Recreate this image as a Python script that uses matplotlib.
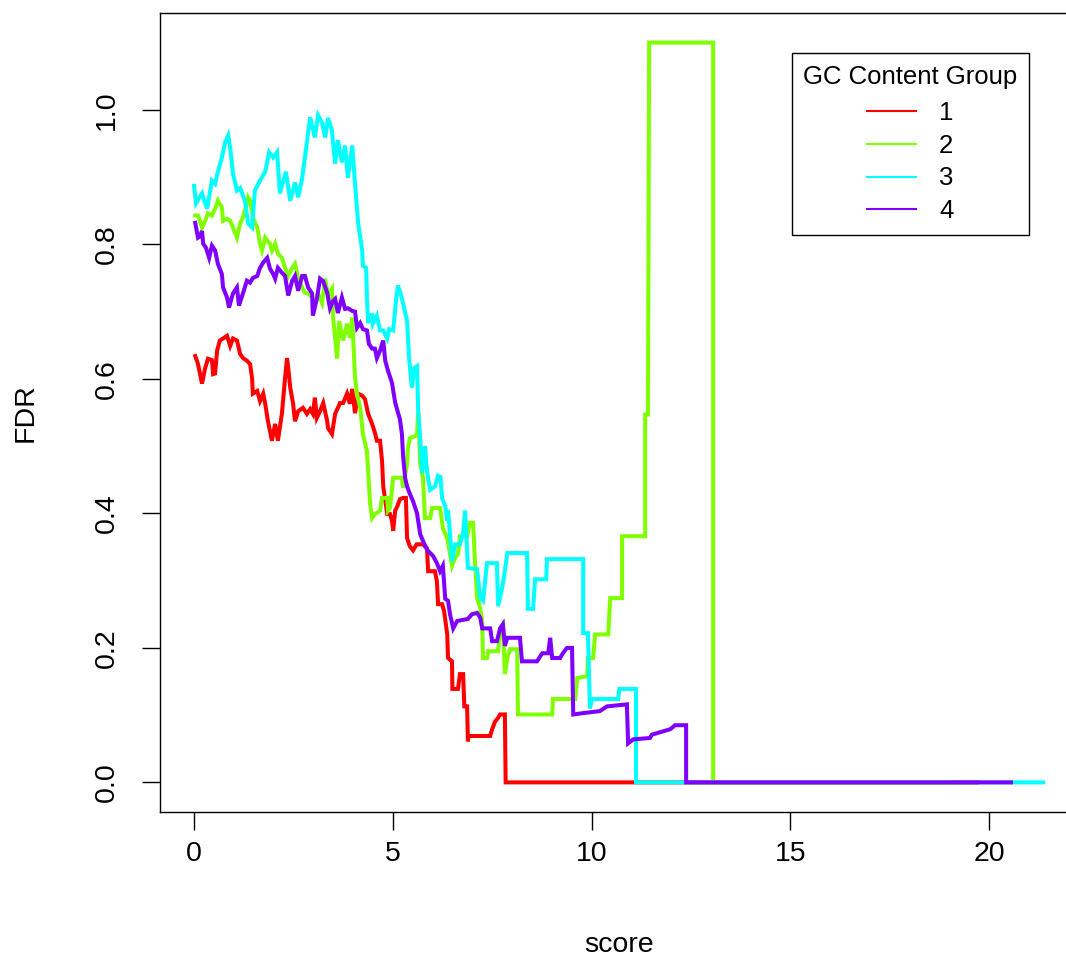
import matplotlib
matplotlib.use("Agg")
import matplotlib.pyplot as plt
from matplotlib.lines import Line2D

plt.rcParams['font.family'] = ['Liberation Sans', 'DejaVu Sans']

# FDR vs score for each GC content group
red_x = [0.03, 0.10, 0.20, 0.28, 0.35, 0.45, 0.48, 0.53, 0.58, 0.65, 0.73, 0.83, 0.91, 0.98, 1.08,
         1.16, 1.23, 1.33, 1.41, 1.46, 1.48, 1.59, 1.66, 1.74, 1.79, 1.86, 1.96, 2.04, 2.11, 2.21,
         2.29, 2.34, 2.37, 2.42, 2.49, 2.54, 2.62, 2.74, 2.84, 2.92, 2.99, 3.04, 3.09, 3.17, 3.25,
         3.35, 3.37, 3.47, 3.55, 3.62, 3.67, 3.75, 3.85, 3.92, 3.98, 4.05, 4.13, 4.23, 4.30, 4.38,
         4.42, 4.48, 4.55, 4.60, 4.68, 4.73, 4.76, 4.86, 4.93, 4.98, 5.01, 5.06, 5.11, 5.18, 5.26,
         5.33, 5.36, 5.43, 5.51, 5.60, 5.76, 5.86, 5.89, 6.06, 6.11, 6.14, 6.24, 6.29, 6.37, 6.39,
         6.45, 6.49, 6.50, 6.64, 6.69, 6.77, 6.80, 6.87, 6.89, 6.90, 7.45, 7.50, 7.57, 7.65, 7.70,
         7.82, 7.84, 19.7]
red_y = [0.634, 0.622, 0.593, 0.616, 0.630, 0.628, 0.607, 0.608, 0.642, 0.657, 0.660, 0.664, 0.649,
         0.660, 0.657, 0.637, 0.631, 0.627, 0.622, 0.601, 0.578, 0.582, 0.567, 0.578, 0.563, 0.537,
         0.508, 0.533, 0.508, 0.548, 0.601, 0.631, 0.616, 0.587, 0.564, 0.537, 0.552, 0.557, 0.548,
         0.555, 0.548, 0.572, 0.542, 0.552, 0.564, 0.537, 0.527, 0.518, 0.548, 0.557, 0.564, 0.564,
         0.578, 0.563, 0.585, 0.549, 0.578, 0.575, 0.570, 0.548, 0.542, 0.533, 0.520, 0.508, 0.508,
         0.478, 0.440, 0.399, 0.399, 0.389, 0.374, 0.404, 0.410, 0.421, 0.423, 0.423, 0.363, 0.351,
         0.345, 0.354, 0.354, 0.348, 0.314, 0.314, 0.299, 0.265, 0.265, 0.255, 0.220, 0.185, 0.182,
         0.180, 0.139, 0.139, 0.161, 0.161, 0.113, 0.113, 0.061, 0.069, 0.069, 0.079, 0.090, 0.096,
         0.101, 0.101, 0.0, 0.0]

green_x = [0.03, 0.10, 0.20, 0.28, 0.35, 0.45, 0.53, 0.60, 0.70, 0.73, 0.83, 0.91, 0.98, 1.08, 1.16,
           1.23, 1.33, 1.36, 1.41, 1.48, 1.59, 1.66, 1.71, 1.79, 1.84, 1.91, 1.96, 2.04, 2.11, 2.21,
           2.29, 2.37, 2.47, 2.54, 2.62, 2.72, 2.79, 2.87, 2.97, 3.04, 3.12, 3.22, 3.30, 3.37, 3.47,
           3.50, 3.60, 3.65, 3.75, 3.85, 3.92, 3.98, 4.05, 4.10, 4.18, 4.25, 4.35, 4.43, 4.48, 4.55,
           4.68, 4.73, 4.86, 4.88, 4.93, 5.01, 5.23, 5.26, 5.36, 5.38, 5.43, 5.61, 5.64, 5.69, 5.76,
           5.81, 5.94, 5.99, 6.19, 6.26, 6.37, 6.44, 6.49, 6.57, 6.64, 6.69, 6.87, 6.94, 7.02, 7.07,
           7.12, 7.20, 7.25, 7.27, 7.37, 7.40, 7.65, 7.70, 7.77, 7.82, 7.88, 7.95, 8.13, 8.15, 9.01,
           9.03, 9.59, 9.64, 9.89, 9.91, 10.04, 10.09, 10.42, 10.47, 10.77, 10.77, 11.35, 11.35,
           11.42, 11.45, 13.06, 13.06, 19.0]
green_y = [0.843, 0.843, 0.825, 0.835, 0.846, 0.843, 0.853, 0.865, 0.855, 0.835, 0.838, 0.835, 0.825,
           0.810, 0.831, 0.840, 0.861, 0.870, 0.865, 0.840, 0.825, 0.801, 0.791, 0.810, 0.806, 0.801,
           0.791, 0.801, 0.786, 0.780, 0.765, 0.753, 0.765, 0.771, 0.749, 0.736, 0.728, 0.727, 0.721,
           0.716, 0.727, 0.713, 0.749, 0.724, 0.734, 0.691, 0.630, 0.686, 0.657, 0.682, 0.661, 0.691,
           0.602, 0.578, 0.557, 0.518, 0.493, 0.414, 0.393, 0.399, 0.404, 0.423, 0.423, 0.404, 0.408,
           0.453, 0.453, 0.438, 0.474, 0.497, 0.512, 0.516, 0.550, 0.474, 0.453, 0.393, 0.393, 0.408,
           0.408, 0.378, 0.363, 0.340, 0.322, 0.334, 0.340, 0.366, 0.366, 0.386, 0.386, 0.325, 0.274,
           0.259, 0.240, 0.185, 0.185, 0.195, 0.195, 0.229, 0.235, 0.161, 0.185, 0.198, 0.198, 0.101,
           0.101, 0.124, 0.124, 0.155, 0.158, 0.185, 0.185, 0.220, 0.220, 0.274, 0.274, 0.366, 0.366,
           0.547, 0.547, 1.10, 1.10, 0.0, 0.0]

cyan_x = [0.00, 0.05, 0.20, 0.33, 0.45, 0.53, 0.60, 0.70, 0.78, 0.86, 0.91, 0.98, 1.08, 1.16, 1.28,
          1.36, 1.46, 1.53, 1.66, 1.79, 1.89, 1.99, 2.09, 2.16, 2.31, 2.42, 2.54, 2.62, 2.72, 2.82,
          2.92, 3.04, 3.12, 3.22, 3.30, 3.37, 3.47, 3.55, 3.62, 3.72, 3.80, 3.87, 3.98, 4.05, 4.13,
          4.23, 4.25, 4.33, 4.35, 4.38, 4.48, 4.50, 4.60, 4.68, 4.76, 4.86, 4.91, 5.01, 5.08, 5.13,
          5.21, 5.26, 5.36, 5.41, 5.48, 5.54, 5.61, 5.64, 5.69, 5.74, 5.81, 5.86, 5.94, 6.06, 6.14,
          6.20, 6.24, 6.32, 6.37, 6.39, 6.44, 6.49, 6.57, 6.69, 6.77, 6.82, 6.87, 6.89, 7.12, 7.20,
          7.27, 7.37, 7.62, 7.65, 7.75, 7.82, 7.88, 8.38, 8.40, 8.53, 8.58, 8.86, 8.88, 9.79, 9.79,
          9.91, 9.96, 10.01, 10.67, 10.70, 11.12, 11.12, 21.36]
cyan_y = [0.887, 0.861, 0.876, 0.853, 0.895, 0.890, 0.908, 0.929, 0.951, 0.962, 0.943, 0.905, 0.880,
          0.884, 0.865, 0.831, 0.825, 0.880, 0.895, 0.908, 0.937, 0.929, 0.937, 0.876, 0.908, 0.865,
          0.892, 0.870, 0.898, 0.943, 0.989, 0.959, 0.992, 0.981, 0.959, 0.988, 0.969, 0.920, 0.955,
          0.922, 0.947, 0.899, 0.947, 0.890, 0.831, 0.791, 0.768, 0.765, 0.721, 0.683, 0.697, 0.682,
          0.694, 0.672, 0.672, 0.660, 0.674, 0.672, 0.716, 0.739, 0.724, 0.712, 0.686, 0.631, 0.587,
          0.616, 0.619, 0.552, 0.512, 0.460, 0.500, 0.463, 0.435, 0.440, 0.456, 0.454, 0.423, 0.411,
          0.389, 0.405, 0.369, 0.329, 0.354, 0.354, 0.371, 0.404, 0.343, 0.319, 0.317, 0.274, 0.270,
          0.326, 0.326, 0.262, 0.289, 0.314, 0.341, 0.341, 0.258, 0.258, 0.302, 0.302, 0.332, 0.332,
          0.222, 0.222, 0.110, 0.124, 0.124, 0.139, 0.139, 0.0, 0.0]

purple_x = [0.03, 0.08, 0.10, 0.15, 0.20, 0.23, 0.30, 0.38, 0.45, 0.53, 0.60, 0.70, 0.73, 0.83, 0.88,
            0.98, 1.08, 1.13, 1.23, 1.33, 1.41, 1.48, 1.59, 1.66, 1.74, 1.84, 1.91, 1.99, 2.04, 2.11,
            2.21, 2.29, 2.37, 2.47, 2.54, 2.62, 2.72, 2.79, 2.87, 2.97, 2.99, 3.09, 3.17, 3.25, 3.35,
            3.42, 3.50, 3.55, 3.62, 3.72, 3.80, 3.87, 3.98, 4.05, 4.10, 4.18, 4.25, 4.35, 4.40, 4.48,
            4.55, 4.60, 4.68, 4.76, 4.81, 4.88, 4.98, 5.06, 5.13, 5.18, 5.23, 5.26, 5.31, 5.36, 5.43,
            5.51, 5.61, 5.69, 5.76, 5.86, 5.94, 6.01, 6.11, 6.19, 6.26, 6.32, 6.39, 6.44, 6.52, 6.62,
            6.89, 6.99, 7.12, 7.20, 7.25, 7.45, 7.50, 7.62, 7.70, 7.77, 7.82, 7.88, 8.20, 8.25, 8.63,
            8.76, 8.91, 8.96, 9.01, 9.21, 9.28, 9.38, 9.51, 9.54, 9.79, 10.21, 10.39, 10.89, 10.92,
            11.05, 11.47, 11.52, 11.98, 12.10, 12.38, 12.38, 20.55]
purple_y = [0.832, 0.816, 0.810, 0.812, 0.820, 0.801, 0.795, 0.780, 0.798, 0.791, 0.771, 0.756, 0.736,
            0.721, 0.706, 0.727, 0.736, 0.709, 0.727, 0.746, 0.743, 0.750, 0.753, 0.765, 0.773, 0.780,
            0.764, 0.756, 0.749, 0.765, 0.758, 0.753, 0.724, 0.746, 0.753, 0.731, 0.753, 0.753, 0.736,
            0.727, 0.694, 0.719, 0.749, 0.745, 0.728, 0.705, 0.716, 0.719, 0.698, 0.721, 0.704, 0.705,
            0.701, 0.700, 0.676, 0.683, 0.674, 0.672, 0.652, 0.645, 0.645, 0.631, 0.642, 0.657, 0.627,
            0.612, 0.594, 0.565, 0.550, 0.540, 0.518, 0.485, 0.453, 0.440, 0.429, 0.418, 0.400, 0.369,
            0.359, 0.346, 0.341, 0.337, 0.326, 0.314, 0.322, 0.273, 0.270, 0.250, 0.229, 0.240, 0.243,
            0.250, 0.252, 0.245, 0.229, 0.229, 0.210, 0.210, 0.229, 0.235, 0.203, 0.215, 0.215, 0.180,
            0.180, 0.192, 0.192, 0.215, 0.185, 0.185, 0.192, 0.200, 0.200, 0.101, 0.103, 0.106, 0.113,
            0.116, 0.058, 0.064, 0.066, 0.071, 0.079, 0.085, 0.085, 0.0, 0.0]

groups = ["1", "2", "3", "4"]
colors = ["#FF0000", "#80FF00", "#00FFFF", "#8000FF"]  # rainbow(4)
series = [(red_x, red_y), (green_x, green_y), (cyan_x, cyan_y), (purple_x, purple_y)]

fig = plt.figure(figsize=(10.66, 9.64), dpi=100)
ax = fig.add_axes([0.1501, 0.1577, 0.8612, 0.8288])

for (x, y), c in zip(series, colors):
    ax.plot(x, y, color=c, lw=2.9, solid_joinstyle='miter')

ax.set_xlim(-0.856, 22.24)
ax.set_ylim(-0.044, 1.144)
ax.set_xticks([0, 5, 10, 15, 20])
ax.set_yticks([0.0, 0.2, 0.4, 0.6, 0.8, 1.0])
ax.set_yticklabels(["0.0", "0.2", "0.4", "0.6", "0.8", "1.0"])
ax.tick_params(axis='both', direction='out', length=13, width=1.0, labelsize=20.5)
ax.tick_params(axis='x', pad=8)
ax.tick_params(axis='y', pad=16)
for lab in ax.get_yticklabels():
    lab.set_rotation(90)
    lab.set_va('center')
for sp in ax.spines.values():
    sp.set_linewidth(1.0)

ax.set_xlabel("score", fontsize=20.5, labelpad=47)
ax.set_ylabel("FDR", fontsize=20.5, labelpad=40)

handles = [Line2D([], [], color=c, lw=1.5) for c in colors]
leg = ax.legend(handles, groups, title="GC Content Group", loc='upper right',
                bbox_to_anchor=(0.9466, 0.950), frameon=True, fancybox=False,
                edgecolor='black', framealpha=1, fontsize=18.5, title_fontsize=18.5,
                alignment='center', handlelength=1.9, handletextpad=0.9,
                labelspacing=0.34, borderpad=0.45, borderaxespad=0)
leg._legend_box.sep = 9  # a bit more room between title and entries, as in R
leg.get_frame().set_linewidth(1.0)

fig.savefig("out.png", dpi=100)
